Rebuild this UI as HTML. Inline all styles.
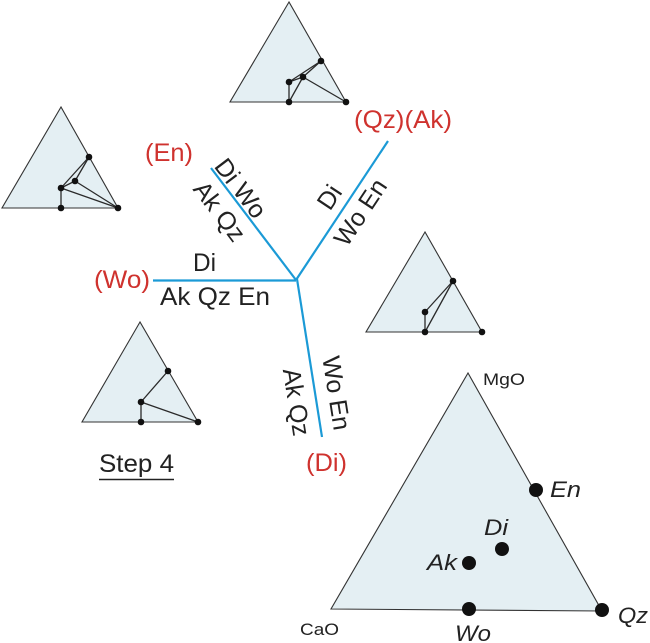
<!DOCTYPE html>
<html><head><meta charset="utf-8"><style>
html,body{margin:0;padding:0;background:#fff;}
svg{display:block;}
text{font-family:"Liberation Sans",Arial,sans-serif;}
</style></head><body>
<svg width="650" height="643" viewBox="0 0 650 643" xmlns="http://www.w3.org/2000/svg">
<g fill="#e4eff3" stroke="#333" stroke-width="1.1" stroke-linejoin="miter">
<polygon points="289,2 230,102 346,102"/>
<polygon points="61,107 2,208 118,208"/>
<polygon points="425,232 366,332 482,332"/>
<polygon points="140,322 82,422 198,422"/>
<polygon points="468,373 331,609 602,611"/>
</g>
<g stroke="#2a2a2a" stroke-width="1.3" fill="none">
<line x1="321" y1="61" x2="289" y2="82"/>
<line x1="321" y1="61" x2="303" y2="77"/>
<line x1="289" y1="82" x2="303" y2="77"/>
<line x1="303" y1="77" x2="289" y2="102"/>
<line x1="303" y1="77" x2="346" y2="102"/>
<line x1="289" y1="82" x2="289" y2="102"/>
<line x1="89" y1="157" x2="61" y2="188"/>
<line x1="89" y1="157" x2="75" y2="181"/>
<line x1="61" y1="188" x2="75" y2="181"/>
<line x1="75" y1="181" x2="118" y2="208"/>
<line x1="61" y1="188" x2="118" y2="208"/>
<line x1="61" y1="188" x2="61" y2="208"/>
<line x1="453" y1="281" x2="425" y2="312"/>
<line x1="453" y1="281" x2="425" y2="332"/>
<line x1="425" y1="312" x2="425" y2="332"/>
<line x1="168" y1="371" x2="141" y2="402"/>
<line x1="141" y1="402" x2="198" y2="422"/>
<line x1="141" y1="402" x2="141" y2="422"/>
</g>
<g fill="#111">
<circle cx="321" cy="61" r="3.3"/><circle cx="303" cy="77" r="3.3"/><circle cx="289" cy="82" r="3.3"/><circle cx="289" cy="102" r="3.3"/><circle cx="346" cy="102" r="3.3"/>
<circle cx="89" cy="157" r="3.3"/><circle cx="75" cy="181" r="3.3"/><circle cx="61" cy="188" r="3.3"/><circle cx="61" cy="208" r="3.3"/><circle cx="118" cy="208" r="3.3"/>
<circle cx="453" cy="281" r="3.3"/><circle cx="425" cy="312" r="3.3"/><circle cx="425" cy="332" r="3.3"/><circle cx="482" cy="332" r="3.3"/>
<circle cx="168" cy="371" r="3.3"/><circle cx="141" cy="402" r="3.3"/><circle cx="141" cy="422" r="3.3"/><circle cx="198" cy="422" r="3.3"/>
<circle cx="536" cy="490" r="7"/><circle cx="502" cy="549" r="7"/><circle cx="469" cy="563" r="7"/><circle cx="469" cy="609" r="7"/><circle cx="602" cy="610" r="7"/>
</g>
<g stroke="#1b9ad6" stroke-width="2.2" fill="none">
<line x1="153" y1="280.5" x2="296" y2="280.5"/>
<line x1="211" y1="168" x2="296" y2="280"/>
<line x1="296" y1="280" x2="388" y2="141"/>
<line x1="297" y1="279" x2="322" y2="437"/>
</g>
<g fill="#cf322e" font-size="25">
<text x="145" y="161" textLength="48" lengthAdjust="spacingAndGlyphs">(En)</text>
<text x="354" y="128" textLength="98" lengthAdjust="spacingAndGlyphs">(Qz)(Ak)</text>
<text x="94" y="288" textLength="56" lengthAdjust="spacingAndGlyphs">(Wo)</text>
<text x="306" y="471" textLength="41" lengthAdjust="spacingAndGlyphs">(Di)</text>
</g>
<g fill="#222" font-size="25">
<text x="193" y="271" textLength="23" lengthAdjust="spacingAndGlyphs">Di</text>
<text x="160" y="305" textLength="110" lengthAdjust="spacingAndGlyphs">Ak Qz En</text>
<text transform="translate(241,188) rotate(52.8)" text-anchor="middle" y="9">Di Wo</text>
<text transform="translate(220,211) rotate(52.8)" text-anchor="middle" y="9">Ak Qz</text>
<text transform="translate(329,197) rotate(-56.5)" text-anchor="middle" y="9">Di</text>
<text transform="translate(360,212) rotate(-56.5)" text-anchor="middle" y="9">Wo En</text>
<text transform="translate(337,393) rotate(81)" text-anchor="middle" y="9">Wo En</text>
<text transform="translate(297,402) rotate(81)" text-anchor="middle" y="9">Ak Qz</text>
<text x="99" y="472" textLength="75" lengthAdjust="spacingAndGlyphs">Step 4</text>
</g>
<line x1="99" y1="479.5" x2="174" y2="479.5" stroke="#222" stroke-width="1.5"/>
<g fill="#222">
<text x="483" y="385" font-size="17" textLength="42" lengthAdjust="spacingAndGlyphs">MgO</text>
<text x="300" y="635" font-size="17" textLength="39" lengthAdjust="spacingAndGlyphs">CaO</text>
<g font-size="22" font-style="italic">
<text x="550" y="497" textLength="31" lengthAdjust="spacingAndGlyphs">En</text>
<text x="484" y="535" textLength="24" lengthAdjust="spacingAndGlyphs">Di</text>
<text x="427" y="570" textLength="30" lengthAdjust="spacingAndGlyphs">Ak</text>
<text x="618" y="623" textLength="30" lengthAdjust="spacingAndGlyphs">Qz</text>
<text x="455" y="641" textLength="36" lengthAdjust="spacingAndGlyphs">Wo</text>
</g>
</g>
</svg>
</body></html>
